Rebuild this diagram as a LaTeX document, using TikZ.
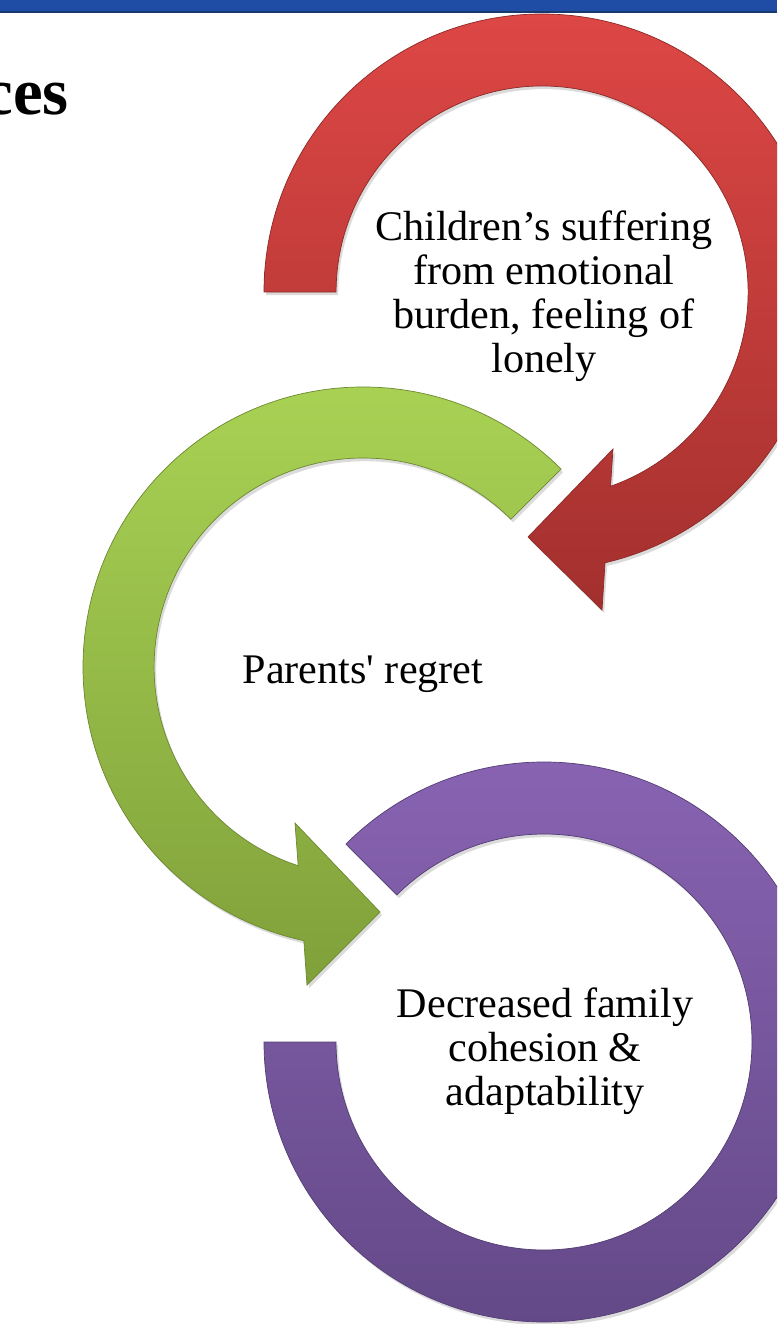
\documentclass[tikz,border=0pt]{standalone}
\usepackage{fontspec}
\setmainfont{Liberation Serif}[Ligatures=TeXOff]
\usetikzlibrary{shadows}
\definecolor{barblue}{HTML}{1F4CA4}
\definecolor{barline}{HTML}{17396F}
\definecolor{redtop}{HTML}{DD4745}
\definecolor{redbot}{HTML}{A3302E}
\definecolor{greentop}{HTML}{AAD455}
\definecolor{greenbot}{HTML}{80A03A}
\definecolor{purtop}{HTML}{8A64B4}
\definecolor{purbot}{HTML}{624886}
\begin{document}
\begin{tikzpicture}[x=0.02cm,y=0.02cm,
  ring/.style={draw=#1, line width=0.4pt,
    drop shadow={opacity=0.28, shadow xshift=1.2pt, shadow yshift=-1.8pt}},
  lbl/.style={align=center, font=\fontsize{24}{25}\selectfont, inner sep=0pt, text=black}]
\useasboundingbox (0,0) rectangle (777,-1324);
\clip (0,0) rectangle (777,-1324);
\fill[white] (0,0) rectangle (777,-1324);
\fill[barblue] (0,0) rectangle (777,-12);
\draw[barline, line width=1pt] (0,-12) -- (777,-12);
\node[font=\fontsize{38}{40}\selectfont\bfseries, anchor=base east, inner sep=0pt] (title) at (69,-115) {ces};
% red circular arrow
\path[ring=redbot!85!black, top color=redtop, bottom color=redbot]
  (264,-292) arc[start angle=180, end angle=-76.9, radius=278]
  -- (602,-610) -- (528,-537) -- (613,-449) -- (610.5,-486.3)
  arc[start angle=-70.6, end angle=180, radius=206] -- cycle;
% green circular arrow
\path[ring=greenbot!85!black, top color=greentop, bottom color=greenbot]
  (561,-469) arc[start angle=45, end angle=257.8, radius=280]
  -- (307,-985) -- (380,-912) -- (295,-823) -- (298.2,-865.7)
  arc[start angle=251.9, end angle=45, radius=209] -- cycle;
% purple ring
\path[ring=purbot!85!black, top color=purtop, bottom color=purbot]
  (346,-844) arc[start angle=135, end angle=-180, radius=280]
  -- (336,-1042) arc[start angle=-180, end angle=135, radius=208] -- cycle;
\node[lbl] (t1) at (544,-296) {Children’s suffering\\from emotional\\burden, feeling of\\lonely};
\node[lbl, anchor=base] (t2) at (363,-683) {Parents' regret};
\node[lbl] (t3) at (545,-1051) {Decreased family\\cohesion \&\\adaptability};
\end{tikzpicture}
\end{document}
